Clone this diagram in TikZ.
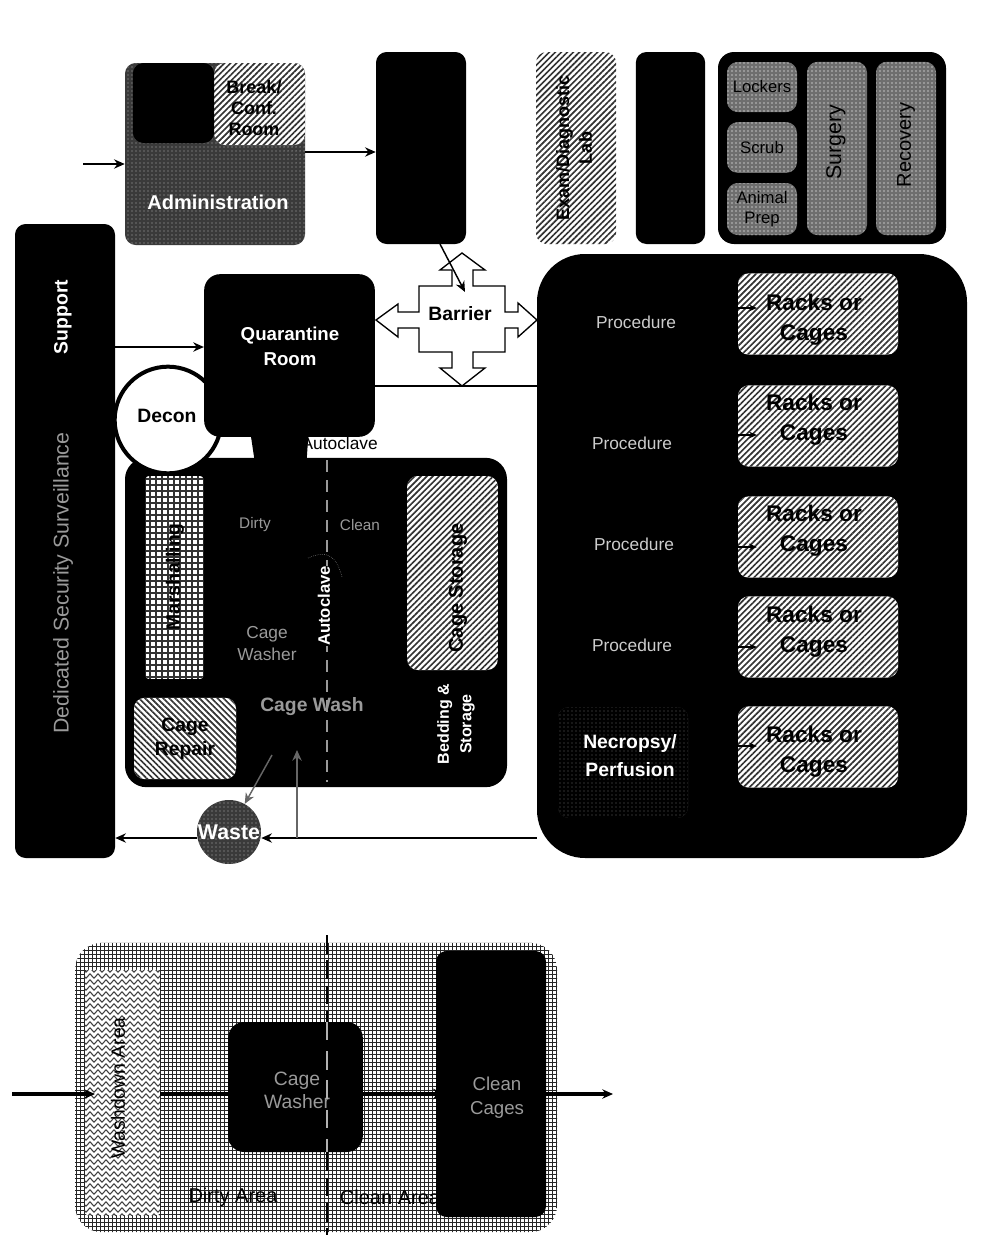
\documentclass[tikz,border=0pt]{standalone}
\usepackage{fontspec}
\setmainfont{Liberation Sans}
\usetikzlibrary{arrows.meta, positioning, patterns.meta, decorations.pathmorphing}
\definecolor{roomgrey}{HTML}{6E6E6E}
\definecolor{admingrey}{HTML}{3A3A3A}
\definecolor{dimtext}{HTML}{9A9A9A}
\newcommand{\fsz}[2]{\fontsize{#1}{#2}\selectfont\bfseries}
\newcommand{\fsr}[2]{\fontsize{#1}{#2}\selectfont}
\tikzset{
  room/.style={rounded corners=8pt, inner sep=0pt, align=center},
  blackroom/.style={room, fill=black, text=white},
  hatchroom/.style={room, preaction={fill=white}, pattern={Lines[angle=45,distance=3.2pt,line width=1.25pt]}, pattern color=black!80},
  backroom/.style={room, preaction={fill=white}, pattern={Lines[angle=-45,distance=3.2pt,line width=1.25pt]}, pattern color=black!80},
  dotroom/.style={room, preaction={fill=roomgrey}, pattern={Dots[distance=3pt,radius=.7pt]}, pattern color=white!75!black},
  darkroom/.style={room, preaction={fill=admingrey}, pattern={Dots[distance=3pt,radius=.55pt]}, pattern color=white!70!black},
  gridroom/.style={room, preaction={fill=white}, pattern={Hatch[angle=0,distance=3pt,line width=.75pt]}, pattern color=black!85},
  label/.style={inner sep=0pt, align=center},
  flow/.style={-{Stealth[length=8pt,width=7pt]}, line width=1.1pt},
  heavy/.style={-{Stealth[length=8pt,width=7pt]}, line width=2.6pt}
}
\begin{document}
\begin{tikzpicture}[x=0.75pt, y=-0.75pt, font=\fsr{11}{13}]
  \useasboundingbox (0,0) rectangle (991,1235);
  % Front of the building
  \node[darkroom, minimum width=135pt, minimum height=136.5pt] (admin) at (215,154) {};
  \node[hatchroom, minimum width=68pt, minimum height=61.5pt] (breakroom) at (259.5,104) {};
  \node[label, font=\fsz{13.5}{16}] (breaklabel) at (254,108) {Break/\\Conf.\\Room};
  \node[blackroom, minimum width=61pt, minimum height=60pt] (office) at (173.5,103) {};
  \node[label, white, font=\fsz{15}{17}] (adminlabel) at (218,202) {Administration};
  \node[blackroom, minimum width=67.5pt, minimum height=144pt] (lobby) at (421,148) {};
  \node[hatchroom, minimum width=60pt, minimum height=144pt] (lab) at (576,148) {};
  \node[label, rotate=90, font=\fsz{13.5}{17}] (lablabel) at (574,148) {Exam/Diagnostic\\Lab};
  \node[blackroom, minimum width=52pt, minimum height=144pt] (darkbox) at (670.5,148) {};
  % Surgery suite
  \node[blackroom, rounded corners=12pt, minimum width=171pt, minimum height=144pt] (suite) at (832,148) {};
  \node[dotroom, minimum width=52.5pt, minimum height=37.5pt, font=\fsr{12.5}{15}] (lockers) at (762,87) {Lockers};
  \node[dotroom, minimum width=52.5pt, minimum height=38pt, font=\fsr{12.5}{15}] (scrub) at (762,147.5) {Scrub};
  \node[dotroom, minimum width=52.5pt, minimum height=39pt, font=\fsr{12.5}{15}] (prep) at (762,209) {Animal\\Prep};
  \node[dotroom, minimum width=45pt, minimum height=130pt] (surgery) at (837,148.5) {};
  \node[dotroom, minimum width=45pt, minimum height=130pt] (recovery) at (906,148.5) {};
  \node[label, rotate=90, font=\fsr{16}{18}] (surgerylabel) at (836,142) {Surgery};
  \node[label, rotate=90, font=\fsr{15}{18}] (recoverylabel) at (906,145) {Recovery};
  % Cage wash
  \node[blackroom, rounded corners=16pt, minimum width=286.5pt, minimum height=247pt] (cagewash) at (316,622.5) {};
  \node[room, preaction={fill=white}, rounded corners=2pt, pattern={Hatch[angle=0,distance=4.5pt,line width=.8pt]}, pattern color=black!80, minimum width=43pt, minimum height=152pt] (marshal) at (174.5,577.5) {};
  \node[label, rotate=90, font=\fsz{14.5}{16}] (marshallabel) at (175,577) {Marshalling};
  \node[hatchroom, minimum width=68pt, minimum height=145.5pt] (cagestore) at (452.5,573) {};
  \node[label, rotate=90, font=\fsz{15}{17}] (storelabel) at (458,588) {Cage Storage};
  \node[backroom, minimum width=76.5pt, minimum height=61pt] (repair) at (185,738.5) {};
  \node[label, font=\fsz{14.5}{18}] (repairlabel) at (185,738.5) {Cage\\Repair};
  \node[label, rotate=90, white, font=\fsz{12}{17}] (bedding) at (456,724) {Bedding \&\\Storage};
  \node[label, dimtext, font=\fsr{11.5}{13}] (dirtylabel) at (255,525) {Dirty};
  \node[label, dimtext, font=\fsr{11.5}{13}] (cleanlabel) at (360,525) {Clean};
  \node[label, dimtext, font=\fsr{13}{16.5}] (washerlabel) at (267,644) {Cage\\Washer};
  \node[label, dimtext, font=\fsz{14.5}{16}] (washlabel) at (312,707) {Cage Wash};
  \node[label, font=\fsr{13}{15}, anchor=east] (autoclavea) at (378,443) {Autoclave};
  % Decon sits over the cage wash corner
  \node[circle, draw=black, fill=white, line width=3pt, minimum size=80pt, inner sep=0pt] (decon) at (168,420) {};
  \node[label, font=\fsz{14.5}{16}] (deconlabel) at (167,416) {Decon};
  % Quarantine
  \fill[black] (250,430) -- (308,430) -- (308,440) -- (306,470) -- (256,470) -- cycle;
  \node[blackroom, rounded corners=12pt, minimum width=128pt, minimum height=122pt] (quarantine) at (289.5,355.5) {};
  \node[label, white, font=\fsz{14}{19}] (quarantinelabel) at (290,346) {Quarantine\\Room};
  % Support
  \node[blackroom, minimum width=75pt, minimum height=475.5pt] (support) at (65,541) {};
  \node[label, rotate=90, white, font=\fsz{14.5}{17}] (supportlabel) at (63,317) {Support};
  \node[label, rotate=90, dimtext, font=\fsr{16}{18}] (securitylabel) at (63,583) {Dedicated Security Surveillance};
  % Dirty and clean split
  \draw[dimtext, line width=.9pt, dash pattern=on 9pt off 6pt] (327,460) -- (327,782);
  \node[label, rotate=90, white, font=\fsz{12.5}{14}, fill=black] (autoclaveb) at (324,606) {Autoclave};
  \draw[dimtext, densely dotted] (308,558) .. controls (322,552) and (335,550) .. (342,577);
  % Procedure wing
  \node[blackroom, rounded corners=36pt, minimum width=322.5pt, minimum height=453pt] (wing) at (752,556) {};
  \foreach \name/\ypos/\laby in {rackone/314/320, racktwo/426/420, rackthree/537/531, rackfour/637/632, rackfive/747/752} {
    \node[hatchroom, minimum width=120pt, minimum height=61pt] (\name) at (818,\ypos) {};
    \node[label, font=\fsz{17}{22.5}] (\name label) at (814,\laby) {Racks or\\Cages};
  }
  \foreach \name/\xpos/\ypos in {procone/636/322, proctwo/632/443, procthree/634/544, procfour/632/645} {
    \node[label, white!80!black, font=\fsr{13}{15}] (\name) at (\xpos,\ypos) {Procedure};
  }
  \node[darkroom, pattern color=white!40!black, preaction={fill=black}, minimum width=97.5pt, minimum height=83pt] (necropsy) at (623,762.5) {};
  \node[label, white, font=\fsz{14.5}{21}] (necropsylabel) at (630,756) {Necropsy/\\Perfusion};
  % Short connectors at the racks
  \foreach \name/\ypos in {rackone/308, racktwo/435, rackthree/547, rackfour/647, rackfive/746} {
    \coordinate (\name tip) at (757,\ypos);
    \draw[-{Stealth[length=6pt,width=5pt]}, black, line width=1pt] (738,\ypos) -- (\name tip);
  }
  % Barrier
  \draw[fill=white, line width=1pt] (376,320) -- (398,304) -- (398,312) -- (419,312) -- (419,286) -- (452,286) -- (452,270) -- (440,270) -- (462,253)
    -- (485,270) -- (473,270) -- (473,286) -- (505,286) -- (505,312) -- (518,312) -- (518,303) -- (537,320) -- (518,337) -- (518,328) -- (505,328)
    -- (505,352) -- (473,352) -- (473,368) -- (485,368) -- (462,386) -- (440,368) -- (452,368) -- (452,352) -- (419,352) -- (419,328) -- (398,328) -- (398,337) -- cycle;
  \node[label, font=\fsz{14.5}{17}] (barrier) at (460,314) {Barrier};
  % Waste
  \node[circle, darkroom, rounded corners=0pt, minimum size=48pt, text=white, font=\fsz{16}{18}] (waste) at (229,832) {Waste};
  % Connectors
  \coordinate (entry) at (83,164);
  \coordinate (barriertop) at (465,292);
  \coordinate (loopup) at (297,838);
  \coordinate (washin) at (297,750);
  \coordinate (washout) at (272,755);
  \draw[flow] (entry) -- (entry -| admin.west);
  \draw[flow] (admin.east |- 0,152) -- (lobby.west |- 0,152);
  \draw[flow] (440,244) -- (barriertop);
  \draw[flow] (support.east |- 0,347) -- (quarantine.west |- 0,347);
  \draw[line width=1.1pt] (quarantine.east |- 0,386) -- (wing.west |- 0,386);
  \draw[flow] (wing.west |- 0,838) -- (waste.east |- 0,838);
  \draw[flow] (waste.west |- 0,838) -- (support.east |- 0,838);
  \draw[flow, white!40!black, line width=1.4pt] (loopup) -- (washin);
  \draw[flow, white!40!black] (washout) -- (waste);
  % Wash-down detail
  \node[gridroom, rounded corners=20pt, minimum width=361.5pt, minimum height=217pt] (detail) at (316,1087.5) {};
  \node[room, rounded corners=2pt, fill=white, minimum width=56pt, minimum height=184pt] (washdown) at (122.5,1092.5) {};
  \begin{scope}
    \clip (85,970) rectangle (160,1215);
    \foreach \wavey in {970,976,...,1220} {
      \draw[black!75, line width=.8pt, decorate, decoration={zigzag, amplitude=1.6pt, segment length=6pt}] (80,\wavey) -- (165,\wavey);
    }
  \end{scope}
  \node[label, rotate=90, font=\fsr{14.5}{17}] (washdownlabel) at (118,1088) {Washdown Area};
  \node[blackroom, rounded corners=12pt, minimum width=101pt, minimum height=97.5pt] (washer) at (295.5,1087) {};
  \node[label, dimtext, font=\fsr{14.5}{17}] (washerdetail) at (297,1090) {Cage\\Washer};
  \node[blackroom, minimum width=82.5pt, minimum height=199.5pt] (cleancages) at (491,1084) {};
  \node[label, dimtext, font=\fsr{14}{18}] (cageslabel) at (497,1098) {Clean\\Cages};
  \node[label, font=\fsr{15}{17}] (dirtyarea) at (233,1197) {Dirty Area};
  \node[label, font=\fsr{15}{17}] (cleanarea) at (390,1197) {Clean Area};
  \coordinate (detailin) at (12,1094);
  \coordinate (detailtip) at (95,1094);
  \coordinate (cleantip) at (445,1094);
  \coordinate (detailstart) at (540,1094);
  \coordinate (detailout) at (613,1094);
  \coordinate (splittop) at (327,935);
  \coordinate (splitbottom) at (327,1235);
  \draw[heavy] (detailin) -- (detailtip);
  \draw[line width=3pt] (washdown.east |- detailin) -- (washer.west |- detailin);
  \draw[line width=3pt, -{Stealth[length=9pt,width=8pt,fill=dimtext]}] (washer.east |- detailin) -- (cleantip);
  \draw[heavy] (detailstart) -- (detailout);
  \draw[black, line width=1.3pt, dash pattern=on 14pt off 5pt] (splittop) -- (washer.north -| splittop);
  \draw[white!70!black, line width=1.3pt, dash pattern=on 14pt off 8pt] (washer.north -| splittop) -- (washer.south -| splittop);
  \draw[black, line width=1.3pt, dash pattern=on 14pt off 5pt] (washer.south -| splittop) -- (splitbottom);
\end{tikzpicture}
\end{document}
